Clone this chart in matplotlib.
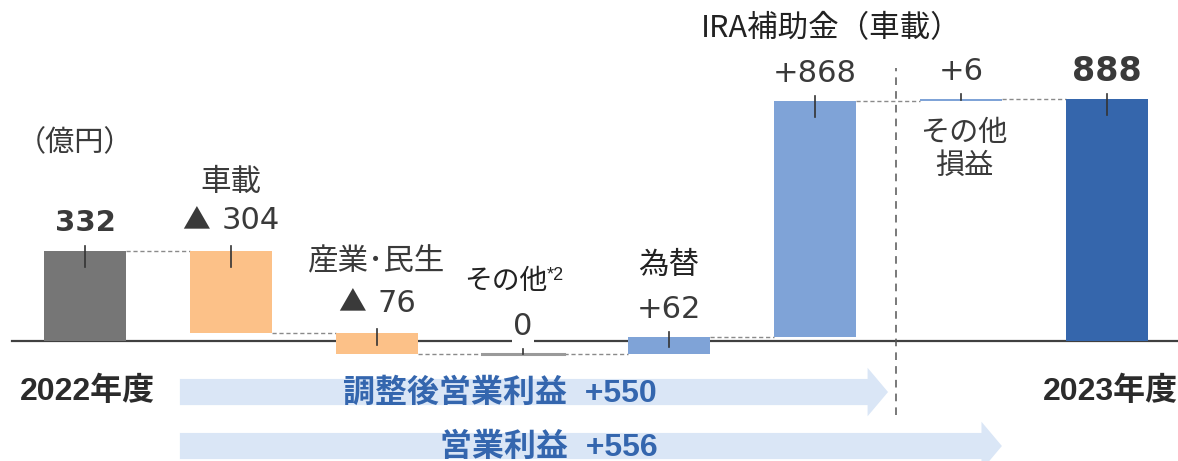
import matplotlib
matplotlib.use('Agg')
import matplotlib.pyplot as plt
from matplotlib.patches import FancyArrow
from matplotlib.offsetbox import TextArea, HPacker, AnnotationBbox
import numpy as np

# ---------------- data ----------------
categories = ['2022年度', '車載', '産業･民生', 'その他', '為替', 'IRA補助金（車載）', 'その他\n損益', '2023年度']
start_value = 332
deltas = [-304, -76, 0, 62, 868, 6]
end_value = 888
value_labels = ['332', '▲ 304', '▲ 76', '0', '+62', '+868', '+6', '888']
arrow_labels = ['調整後営業利益  +550', '営業利益  +556']
unit_label = '（億円）'
footnote_mark = '*2'

# ---------------- styles ----------------
NUM = ['DejaVu Sans', 'Noto Sans CJK JP']
LAT = ['Liberation Sans', 'Noto Sans CJK JP']
CJK = ['Noto Sans CJK JP', 'DejaVu Sans']
TXT = '#3a3a3a'
C_START = '#767676'
C_NEG = '#FCC188'
C_POS = '#7FA3D7'
C_END = '#3566AC'
C_ZERO = '#9a9a9a'
C_ARROW = '#DAE6F6'
C_ARROW_TXT = '#3466AE'

fig = plt.figure(figsize=(11.78, 4.61), dpi=100)
ax = fig.add_axes([0, 0, 1, 1])
ax.set_xlim(-0.582, 7.486)
ax.set_ylim(-440, 1251)
ax.axis('off')

n = len(categories)
x = np.arange(n)
W = 0.56

levels = np.cumsum([start_value] + deltas)  # running totals
bottoms = [0] + list(levels[:-1]) + [0]
tops = [start_value] + list(levels[1:]) + [end_value]
colors = [C_START] + [C_NEG if d < 0 else (C_ZERO if d == 0 else C_POS) for d in deltas] + [C_END]

# baseline
ax.plot([-0.5, 7.486], [0, 0], color='#404040', lw=1.6, zorder=1)

for i in range(n):
    lo, hi = min(bottoms[i], tops[i]), max(bottoms[i], tops[i])
    if hi - lo == 0:
        ax.plot([x[i] - W / 2, x[i] + W / 2], [lo, lo], color=colors[i], lw=2.2, zorder=3)
    else:
        ax.bar(x[i], hi - lo, bottom=lo, width=W, color=colors[i], zorder=3, linewidth=0)
    h = hi - lo
    ax.plot([x[i], x[i]], [hi + 18, hi - min(60, 0.55 * h)], color='#333333', lw=1.2, zorder=4)

# dashed connectors
run = [start_value] + list(levels[1:])
for i in range(n - 1):
    lvl = run[i]
    ax.plot([x[i] + W / 2, x[i + 1] - W / 2], [lvl, lvl], color='#8a8a8a', lw=1.0,
            ls=(0, (3, 2)), zorder=2)

# value labels
for i in range(n):
    hi = max(bottoms[i], tops[i])
    lab = value_labels[i]
    if lab.startswith('▲'):
        tri = TextArea('▲', textprops=dict(fontsize=20, color=TXT, family=CJK))
        num = TextArea(lab[1:].strip(), textprops=dict(fontsize=22, color=TXT, family=NUM))
        pack = HPacker(children=[tri, num], align='baseline', pad=0, sep=8)
        ab = AnnotationBbox(pack, (x[i], hi + 100), frameon=False,
                            box_alignment=(0.5, 0.42), pad=0, zorder=6)
        ax.add_artist(ab)
        continue
    if i == 0:
        fs, fw = 21, 'bold'
    elif i == n - 1:
        fs, fw = 24, 'bold'
    else:
        fs, fw = 22, 'normal'
    t = ax.text(x[i], hi + 100, lab, ha='center', va='center',
                fontsize=fs, color=TXT, family=NUM, fontweight=fw, zorder=6)
    if lab == '0':
        t.set_bbox(dict(facecolor='white', edgecolor='none', pad=1))

# category labels
for i in range(1, n - 1):
    hi = max(bottoms[i], tops[i])
    if i == 6:
        ax.text(x[i] + 0.02, hi - 185, categories[i], ha='center', va='center',
                fontsize=21, color=TXT, family=CJK, linespacing=1.1)
    elif i == 3:
        ax.text(x[i] + 0.165, hi + 100 + 167, categories[i], ha='right', va='center',
                fontsize=20, color='#222222', family=CJK)
        ax.text(x[i] + 0.165, hi + 100 + 190, footnote_mark, ha='left', va='center',
                fontsize=13, color='#222222', family=LAT)
    else:
        off = 150 if i == 1 else 163
        ax.text(x[i] if i != 5 else x[i] + 0.11, hi + 100 + off, categories[i],
                ha='center', va='center', fontsize=22,
                color='#222222' if i in (4, 5) else TXT, family=CJK)

# unit label
ax.text(-0.07, 727, unit_label, ha='center', va='center', fontsize=21, color=TXT, family=CJK)

# year labels
for i in (0, n - 1):
    ax.text(x[i] + 0.02, -187, categories[i], ha='center', va='center',
            fontsize=23, fontweight='bold', color='#2b2b2b', family=LAT)

# separator
sep_x = 5.555
ax.plot([sep_x, sep_x], [-272, 1002], color='#555555', lw=1.1, ls=(0, (5, 4)), zorder=2)

# arrows
arr_start = x[1] - W / 2 - 0.07
arr_tips = [5.5, x[6] + W / 2]
arr_y = [-187, -385]
for k in range(2):
    ax.add_patch(FancyArrow(arr_start, arr_y[k], arr_tips[k] - arr_start, 0,
                            width=96, head_width=178, head_length=0.14,
                            length_includes_head=True, color=C_ARROW, lw=0, zorder=1))
ax.text(2.84, arr_y[0] - 4, arrow_labels[0], ha='center', va='center', fontsize=23,
        fontweight='bold', color=C_ARROW_TXT, family=LAT, zorder=5)
ax.text(3.18, arr_y[1] - 8, arrow_labels[1], ha='center', va='center', fontsize=23,
        fontweight='bold', color=C_ARROW_TXT, family=LAT, zorder=5)

fig.savefig('out.png', dpi=100)
